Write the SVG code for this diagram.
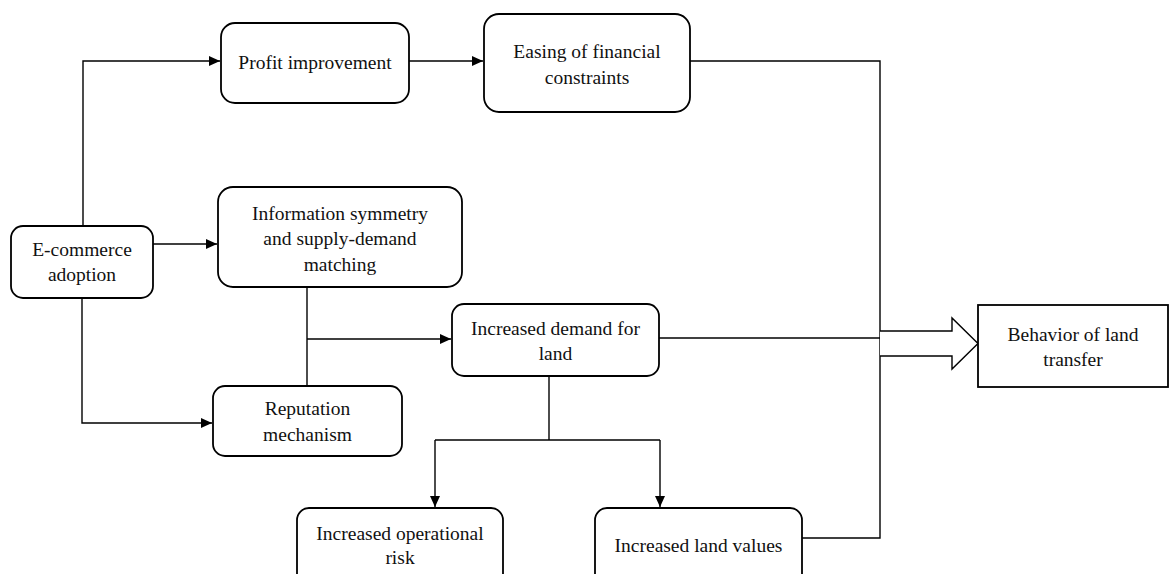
<svg xmlns="http://www.w3.org/2000/svg" width="1170" height="574" viewBox="0 0 1170 574">
<style>
.box{fill:#fff;stroke:#000;stroke-width:1.8}
.ln{fill:none;stroke:#000;stroke-width:1.4}
text{font-family:"Liberation Serif","Times New Roman",serif;font-size:19.5px;fill:#111;text-anchor:middle}
</style>
<defs>
<marker id="ah" markerUnits="userSpaceOnUse" markerWidth="12" markerHeight="10" refX="11" refY="5" orient="auto">
<path d="M0,0 L11,5 L0,10 Z" fill="#000"/>
</marker>
</defs>
<g id="connectors">
<path class="ln" d="M83,226 V61 H220" marker-end="url(#ah)"/>
<path class="ln" d="M409,61 H483" marker-end="url(#ah)"/>
<path class="ln" d="M690,61 H880 V538 H802"/>
<path class="ln" d="M153,244 H217" marker-end="url(#ah)"/>
<path class="ln" d="M82,298 V423 H212" marker-end="url(#ah)"/>
<path class="ln" d="M307,287 V386"/>
<path class="ln" d="M307,339 H451" marker-end="url(#ah)"/>
<path class="ln" d="M659,338 H880"/>
<path class="ln" d="M549,367 V440"/>
<path class="ln" d="M435,440 H660"/>
<path class="ln" d="M435,440 V507" marker-end="url(#ah)"/>
<path class="ln" d="M660,440 V507" marker-end="url(#ah)"/>
<path class="ln" style="fill:#fff" d="M880,331 H952 V318 L978,343.5 L952,369 V356 H880"/>
</g>
<g id="profit"><rect class="box" x="221" y="23" width="188" height="80" rx="14"/><text x="315" y="69">Profit improvement</text></g>
<g id="easing"><rect class="box" x="484" y="14" width="206" height="98" rx="15"/><text x="587" y="58">Easing of financial</text><text x="587" y="84">constraints</text></g>
<g id="ecommerce"><rect class="box" x="11" y="226" width="142" height="72" rx="12"/><text x="82" y="256">E-commerce</text><text x="82" y="281">adoption</text></g>
<g id="info"><rect class="box" x="218" y="187" width="244" height="100" rx="15"/><text x="340" y="219.5">Information symmetry</text><text x="340" y="245">and supply-demand</text><text x="340" y="270.5">matching</text></g>
<g id="reputation"><rect class="box" x="213" y="386" width="189" height="70" rx="12"/><text x="307.5" y="415">Reputation</text><text x="307.5" y="441">mechanism</text></g>
<g id="demand"><rect class="box" x="452" y="304" width="207" height="72" rx="12"/><text x="555.5" y="334.5">Increased demand for</text><text x="555.5" y="359.5">land</text></g>
<g id="behavior"><rect class="box" x="978" y="305" width="190" height="82"/><text x="1073" y="341">Behavior of land</text><text x="1073" y="366">transfer</text></g>
<g id="oprisk"><rect class="box" x="297" y="508" width="206" height="80" rx="12"/><text x="400" y="539.5">Increased operational</text><text x="400" y="564">risk</text></g>
<g id="landvalues"><rect class="box" x="595" y="508" width="207" height="80" rx="12"/><text x="698.5" y="552">Increased land values</text></g>
</svg>
